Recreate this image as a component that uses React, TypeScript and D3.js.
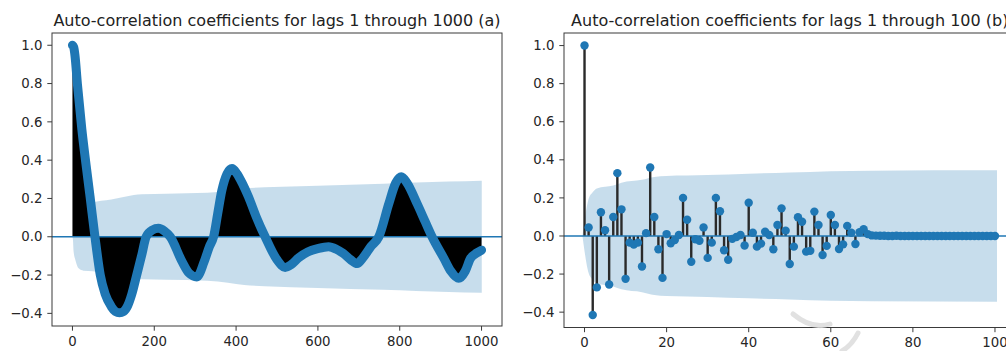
import React from 'react';
import * as d3 from 'd3';

const W = 1006;
const H = 351;
const BLUE = '#1f77b4';
const BAND = 'rgba(31,119,180,0.25)';
const FONT = '"DejaVu Sans", sans-serif';

// (a) acf for lags 0..1000
const lagsA = [0, 3, 6, 12, 23, 33, 43, 55, 68, 80, 95, 105, 115, 125, 135, 145, 157, 170, 180, 195, 210, 225, 239, 268, 285, 304, 322, 335, 345, 355, 365, 378, 390, 402, 415, 430, 450, 471, 500, 520, 535, 553, 575, 600, 626, 645, 662, 680, 696, 710, 730, 749, 773, 790, 804, 818, 843, 862, 879, 908, 925, 944, 960, 973, 988, 1000];
const acfA = [1.0, 0.99, 0.95, 0.8, 0.56, 0.38, 0.21, 0.0, -0.2, -0.3, -0.365, -0.39, -0.397, -0.39, -0.36, -0.3, -0.2, -0.09, 0.0, 0.035, 0.044, 0.03, 0.0, -0.13, -0.19, -0.21, -0.13, -0.05, 0.0, 0.12, 0.24, 0.33, 0.357, 0.33, 0.28, 0.21, 0.1, 0.0, -0.12, -0.16, -0.145, -0.11, -0.08, -0.062, -0.052, -0.065, -0.087, -0.12, -0.14, -0.11, -0.05, 0.0, 0.17, 0.28, 0.313, 0.28, 0.17, 0.08, 0.0, -0.113, -0.18, -0.217, -0.18, -0.113, -0.085, -0.07];

// (a) confidence band half-width
const bandLagsA = [-0.5, 1, 3, 7, 15, 27, 50, 70, 95, 125, 150, 170, 230, 330, 380, 420, 470, 600, 760, 840, 920, 1000.5];
const bandA = [0, 0.01, 0.08, 0.12, 0.165, 0.177, 0.18, 0.188, 0.195, 0.207, 0.218, 0.222, 0.225, 0.23, 0.24, 0.252, 0.258, 0.267, 0.277, 0.283, 0.288, 0.293];

// (b) acf for lags 0..100
const acfB = [
  1.0, 0.045, -0.415, -0.27, 0.125, 0.03, -0.255, 0.1, 0.33, 0.14,
  -0.225, -0.035, -0.045, -0.035, -0.16, 0.015, 0.36, 0.1, -0.07, -0.22,
  0.01, -0.038, -0.021, 0.005, 0.2, 0.085, -0.135, -0.017, -0.025, 0.045,
  -0.115, -0.035, 0.2, 0.13, -0.075, -0.125, -0.015, -0.005, 0.005, -0.05,
  0.175, 0.017, -0.056, -0.04, 0.022, 0.005, -0.07, 0.058, 0.145, 0.028,
  -0.147, -0.056, 0.098, 0.075, -0.082, -0.078, 0.128, 0.058, -0.1, -0.052,
  0.11, 0.058, -0.068, -0.044, 0.053, 0.017, -0.042, 0.02, 0.035, 0.01,
  0.003, 0.002, 0.001, 0.001, 0.0, 0.0, 0.001, 0.0, 0.0, 0.0,
  0.0, 0.0, 0.0, 0.0, 0.0, 0.0, 0.0, 0.0, 0.0, 0.0,
  0.0, 0.0, 0.0, 0.0, 0.0, 0.0, 0.0, 0.0, 0.0, 0.0,
  0.0,
];

// (b) confidence band half-width
const bandLagsB = [-0.5, 1, 2, 3, 7, 9, 14, 17, 20, 30, 40, 50, 60, 70, 100.5];
const bandB = [0, 0.195, 0.23, 0.25, 0.265, 0.28, 0.295, 0.31, 0.315, 0.32, 0.327, 0.333, 0.34, 0.343, 0.345];

const yTicks = [-0.4, -0.2, 0.0, 0.2, 0.4, 0.6, 0.8, 1.0];
const xTicksA = [0, 200, 400, 600, 800, 1000];
const xTicksB = [0, 20, 40, 60, 80, 100];

const fmt = d3.format('.1f');

type Frame = { left: number; right: number; top: number; bottom: number };

function Axes({ frame, x, y, xTicks, title }: {
  frame: Frame; x: d3.ScaleLinear<number, number>; y: d3.ScaleLinear<number, number>;
  xTicks: number[]; title: string;
}) {
  const { left, right, top, bottom } = frame;
  return (
    <g>
      <text x={(left + right) / 2} y={25.5} textAnchor="middle" fontFamily={FONT} fontSize={16} fill="#222">{title}</text>
      <rect x={left} y={top} width={right - left} height={bottom - top} fill="none" stroke="#3a3a3a" strokeWidth={1} />
      {yTicks.map(t => (
        <g key={'y' + t}>
          <line x1={left - 4.7} x2={left} y1={y(t)} y2={y(t)} stroke="#3a3a3a" />
          <text x={left - 9.5} y={y(t)} dy="0.35em" textAnchor="end" fontFamily={FONT} fontSize={13.3} fill="#262626">{fmt(t)}</text>
        </g>
      ))}
      {xTicks.map(t => (
        <g key={'x' + t}>
          <line x1={x(t)} x2={x(t)} y1={bottom} y2={bottom + 4.7} stroke="#3a3a3a" />
          <text x={x(t)} y={bottom + 19.5} textAnchor="middle" fontFamily={FONT} fontSize={13.3} fill="#262626">{t}</text>
        </g>
      ))}
    </g>
  );
}

export default function App() {
  // panel (a)
  const fA: Frame = { left: 52, right: 502, top: 33, bottom: 326 };
  const xA = d3.scaleLinear().domain([-50, 1050]).range([fA.left, fA.right]);
  const yA = d3.scaleLinear().domain([-0.466, 1.064]).range([fA.bottom, fA.top]);
  const ptsA = lagsA.map((l, i) => [l, acfA[i]] as [number, number]);
  const bandPtsA = bandLagsA.map((l, i) => [l, bandA[i]] as [number, number]);

  const bandAreaA = d3.area<[number, number]>()
    .x(d => xA(d[0])).y0(d => yA(-d[1])).y1(d => yA(d[1]))
    .curve(d3.curveMonotoneX);
  const fillA = d3.area<[number, number]>()
    .x(d => xA(d[0])).y0(yA(0)).y1(d => yA(d[1]))
    .curve(d3.curveMonotoneX);
  const lineA = d3.line<[number, number]>()
    .x(d => xA(d[0])).y(d => yA(d[1]))
    .curve(d3.curveMonotoneX);

  // panel (b)
  const fB: Frame = { left: 564, right: 1015.5, top: 33, bottom: 327.5 };
  const xB = d3.scaleLinear().domain([-5, 105]).range([fB.left, fB.right]);
  const yB = d3.scaleLinear().domain([-0.4806, 1.066]).range([fB.bottom, fB.top]);
  const bandPtsB = bandLagsB.map((l, i) => [l, bandB[i]] as [number, number]);
  const bandAreaB = d3.area<[number, number]>()
    .x(d => xB(d[0])).y0(d => yB(-d[1])).y1(d => yB(d[1]))
    .curve(d3.curveMonotoneX);

  return (
    <svg width={W} height={H} style={{ position: 'absolute', left: 0, top: 0, background: '#fff' }}>
      <defs>
        <clipPath id="clipA"><rect x={fA.left} y={fA.top} width={fA.right - fA.left} height={fA.bottom - fA.top} /></clipPath>
        <clipPath id="clipB"><rect x={fB.left} y={fB.top} width={fB.right - fB.left} height={fB.bottom - fB.top} /></clipPath>
      </defs>

      <g clipPath="url(#clipA)">
        <path d={bandAreaA(bandPtsA) || ''} fill={BAND} />
        <path d={fillA(ptsA) || ''} fill="#000" />
        <line x1={fA.left} x2={fA.right} y1={yA(0)} y2={yA(0)} stroke={BLUE} strokeWidth={1.6} />
        <path d={lineA(ptsA) || ''} fill="none" stroke={BLUE} strokeWidth={9} strokeLinecap="round" strokeLinejoin="round" />
      </g>
      <Axes frame={fA} x={xA} y={yA} xTicks={xTicksA} title="Auto-correlation coefficients for lags 1 through 1000 (a)" />

      <g clipPath="url(#clipB)">
        <path d={bandAreaB(bandPtsB) || ''} fill={BAND} />
        {acfB.map((v, i) => (
          <line key={'s' + i} x1={xB(i)} x2={xB(i)} y1={yB(0)} y2={yB(v)} stroke="#2a2a2a" strokeWidth={2.4} />
        ))}
        <line x1={fB.left} x2={fB.right} y1={yB(0)} y2={yB(0)} stroke={BLUE} strokeWidth={1.6} />
        {acfB.map((v, i) => (
          <circle key={'m' + i} cx={xB(i)} cy={yB(v)} r={4.2} fill={BLUE} />
        ))}
      </g>
      <Axes frame={fB} x={xB} y={yB} xTicks={xTicksB} title="Auto-correlation coefficients for lags 1 through 100 (b)" />

      {/* faint watermark strokes in the lower right of the source image */}
      <g fill="none" stroke="#dcdcdc" strokeWidth={5} strokeLinecap="round" opacity={0.85}>
        <path d="M 793 314 Q 812 330 830 324" />
        <path d="M 858 333 Q 852 345 842 351" />
      </g>
    </svg>
  );
}
